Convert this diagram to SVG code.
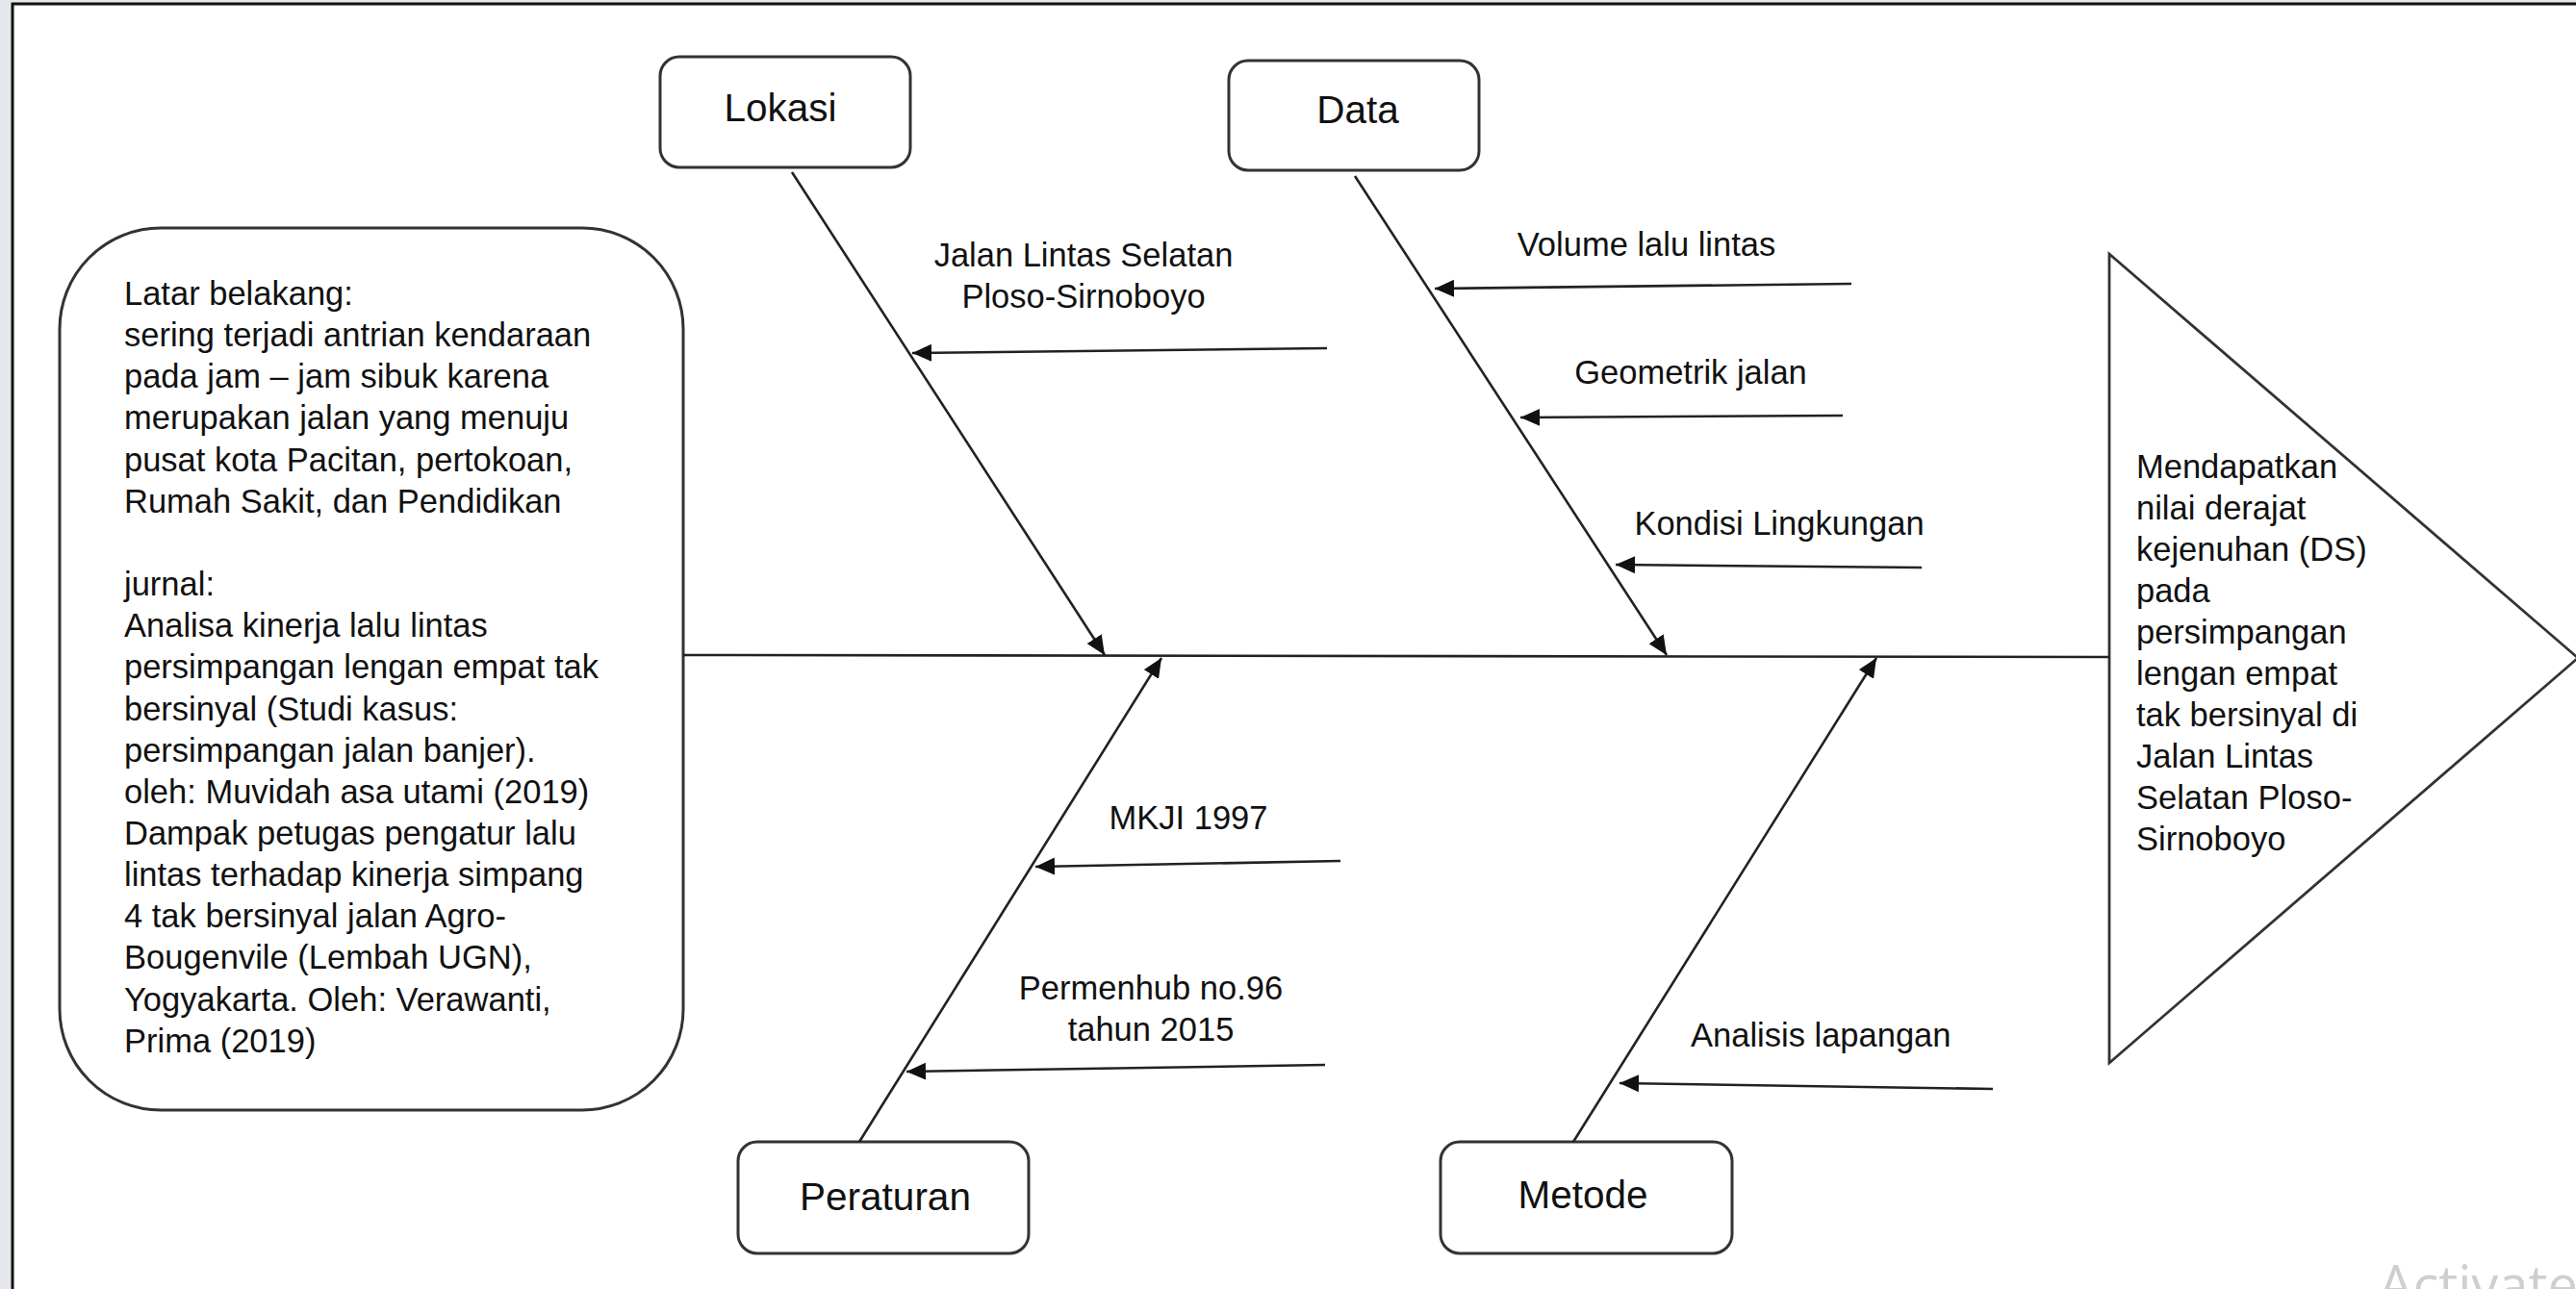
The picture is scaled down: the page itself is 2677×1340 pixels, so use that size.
<svg xmlns="http://www.w3.org/2000/svg" width="2677" height="1340" viewBox="0 0 2677 1340">
<style>
.t{font-family:"Liberation Sans",Arial,sans-serif;font-size:34.5px;fill:#111}
.lbl{font-family:"Liberation Sans",Arial,sans-serif;font-size:40.5px;fill:#111;text-anchor:middle}
.c{text-anchor:middle}
.box{fill:#fff;stroke:#333;stroke-width:3}
.ln{stroke:#222;stroke-width:2.6;fill:none}
</style>
<defs>
<marker id="ah" markerUnits="userSpaceOnUse" markerWidth="22" markerHeight="20" refX="20" refY="9" orient="auto">
<path d="M0,0 L20,9 L0,18 z" fill="#111"/>
</marker>
</defs>
<rect x="0" y="0" width="2677" height="1340" fill="#e4e8ed"/>
<rect x="13" y="4" width="2700" height="1400" fill="#fff" stroke="#111" stroke-width="3"/>

<g id="latar">
<rect class="box" x="62" y="237" width="648" height="917" rx="105" ry="105"/>
<text class="t" x="129" y="317">Latar belakang:</text>
<text class="t" x="129" y="360">sering terjadi antrian kendaraan</text>
<text class="t" x="129" y="403">pada jam – jam sibuk karena</text>
<text class="t" x="129" y="446">merupakan jalan yang menuju</text>
<text class="t" x="129" y="490">pusat kota Pacitan, pertokoan,</text>
<text class="t" x="129" y="533">Rumah Sakit, dan Pendidikan</text>
<text class="t" x="129" y="619">jurnal:</text>
<text class="t" x="129" y="662">Analisa kinerja lalu lintas</text>
<text class="t" x="129" y="705">persimpangan lengan empat tak</text>
<text class="t" x="129" y="749">bersinyal (Studi kasus:</text>
<text class="t" x="129" y="792">persimpangan jalan banjer).</text>
<text class="t" x="129" y="835">oleh: Muvidah asa utami (2019)</text>
<text class="t" x="129" y="878">Dampak petugas pengatur lalu</text>
<text class="t" x="129" y="921">lintas terhadap kinerja simpang</text>
<text class="t" x="129" y="964">4 tak bersinyal jalan Agro-</text>
<text class="t" x="129" y="1007">Bougenvile (Lembah UGN),</text>
<text class="t" x="129" y="1051">Yogyakarta. Oleh: Verawanti,</text>
<text class="t" x="129" y="1094">Prima (2019)</text>
</g>

<g id="lokasi">
<rect class="box" x="686" y="59" width="260" height="115" rx="20" ry="20"/>
<text class="lbl" x="811" y="126">Lokasi</text>
</g>
<g id="data">
<rect class="box" x="1277" y="63" width="260" height="114" rx="20" ry="20"/>
<text class="lbl" x="1411" y="128">Data</text>
</g>
<g id="peraturan">
<rect class="box" x="767" y="1187" width="302" height="116" rx="20" ry="20"/>
<text class="lbl" x="920" y="1258">Peraturan</text>
</g>
<g id="metode">
<rect class="box" x="1497" y="1187" width="303" height="116" rx="20" ry="20"/>
<text class="lbl" x="1645" y="1256">Metode</text>
</g>

<g id="hasil">
<polygon points="2192,264 2192,1105 2679,684" fill="#fff" stroke="#333" stroke-width="2.8"/>
<text class="t" x="2220" y="497">Mendapatkan</text>
<text class="t" x="2220" y="540">nilai derajat</text>
<text class="t" x="2220" y="583">kejenuhan (DS)</text>
<text class="t" x="2220" y="626">pada</text>
<text class="t" x="2220" y="669">persimpangan</text>
<text class="t" x="2220" y="712">lengan empat</text>
<text class="t" x="2220" y="755">tak bersinyal di</text>
<text class="t" x="2220" y="798">Jalan Lintas</text>
<text class="t" x="2220" y="841">Selatan Ploso-</text>
<text class="t" x="2220" y="884">Sirnoboyo</text>
</g>

<g id="connectors">
<line class="ln" x1="710" y1="681" x2="2192" y2="683"/>
<line class="ln" x1="823" y1="179" x2="1148" y2="681" marker-end="url(#ah)"/>
<line class="ln" x1="1408" y1="183" x2="1732" y2="681" marker-end="url(#ah)"/>
<line class="ln" x1="893" y1="1187" x2="1207" y2="684" marker-end="url(#ah)"/>
<line class="ln" x1="1635" y1="1187" x2="1950" y2="684" marker-end="url(#ah)"/>
<line class="ln" x1="1379" y1="362" x2="948" y2="367" marker-end="url(#ah)"/>
<line class="ln" x1="1924" y1="295" x2="1491" y2="300" marker-end="url(#ah)"/>
<line class="ln" x1="1915" y1="432" x2="1580" y2="434" marker-end="url(#ah)"/>
<line class="ln" x1="1997" y1="590" x2="1679" y2="587" marker-end="url(#ah)"/>
<line class="ln" x1="1393" y1="895" x2="1076" y2="901" marker-end="url(#ah)"/>
<line class="ln" x1="1377" y1="1107" x2="942" y2="1114" marker-end="url(#ah)"/>
<line class="ln" x1="2071" y1="1132" x2="1683" y2="1126" marker-end="url(#ah)"/>
</g>

<g id="labels">
<text class="t c" x="1126" y="277">Jalan Lintas Selatan</text>
<text class="t c" x="1126" y="320">Ploso-Sirnoboyo</text>
<text class="t c" x="1711" y="266">Volume lalu lintas</text>
<text class="t c" x="1757" y="399">Geometrik jalan</text>
<text class="t c" x="1849" y="556">Kondisi Lingkungan</text>
<text class="t c" x="1235" y="862">MKJI 1997</text>
<text class="t c" x="1196" y="1039">Permenhub no.96</text>
<text class="t c" x="1196" y="1082">tahun 2015</text>
<text class="t" x="1757" y="1088">Analisis lapangan</text>
</g>

<text x="2472" y="1356" font-family="'Open Sans','Noto Sans',sans-serif" font-size="56" fill="#cfcfcf">Activate</text>
</svg>
